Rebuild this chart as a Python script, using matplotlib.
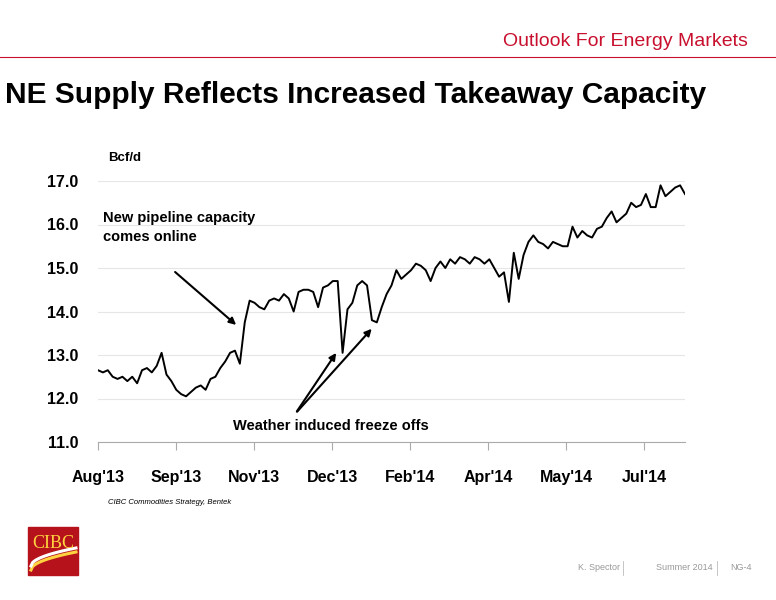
import matplotlib
matplotlib.use("Agg")
import matplotlib.pyplot as plt
import numpy as np
from matplotlib.patches import Rectangle

plt.rcParams['font.family'] = ['Liberation Sans', 'DejaVu Sans']

values = [12.65,12.6,12.65,12.5,12.45,12.5,12.4,12.5,12.35,12.65,12.7,12.6,12.75,13.05,12.55,12.4,12.2,12.1,12.05,12.15,
          12.25,12.3,12.2,12.45,12.5,12.7,12.85,13.05,13.1,12.8,13.75,14.25,14.2,14.1,14.05,14.25,14.3,14.25,14.4,14.3,
          14.0,14.45,14.5,14.5,14.45,14.1,14.55,14.6,14.7,14.7,13.05,14.05,14.2,14.6,14.7,14.6,13.8,13.75,14.1,14.4,
          14.6,14.95,14.75,14.85,14.95,15.1,15.05,14.95,14.7,15.0,15.15,15.0,15.2,15.1,15.25,15.2,15.1,15.25,15.2,15.1,
          15.2,15.0,14.8,14.9,14.22,15.35,14.75,15.3,15.6,15.75,15.6,15.55,15.45,15.6,15.55,15.5,15.5,15.95,15.7,15.85,
          15.75,15.7,15.9,15.95,16.15,16.3,16.05,16.15,16.25,16.5,16.4,16.45,16.7,16.4,16.4,16.9,16.65,16.75,16.85,16.9,16.7]
step_days = 3
days = np.arange(len(values)) * step_days
tick_labels = ["Aug'13", "Sep'13", "Nov'13", "Dec'13", "Feb'14", "Apr'14", "May'14", "Jul'14"]
tick_days = np.arange(len(tick_labels)) * 47.85
yticks = [11.0, 12.0, 13.0, 14.0, 15.0, 16.0, 17.0]

fig = plt.figure(figsize=(7.76, 6.0), dpi=100)
ax = fig.add_axes([98/776, 1-442/600, 587/776, 261/600])
ax.plot(days, values, color='black', lw=1.4)
ax.set_xlim(0, 360)
ax.set_ylim(11, 17)
ax.set_yticks(yticks)
ax.set_yticklabels([f"{v:.1f}" for v in yticks], fontsize=11.5, fontweight='bold')
ax.set_xticks(tick_days)
ax.set_xticklabels(tick_labels, fontsize=11.5, fontweight='bold')
ax.tick_params(axis='y', length=0, pad=14)
ax.tick_params(axis='x', length=6, direction='out', color='#aaaaaa', pad=14)
ax.grid(axis='y', color='#e6e6e6', lw=0.8)
for s in ['top', 'right', 'left']:
    ax.spines[s].set_visible(False)
ax.spines['bottom'].set_color('#aaaaaa')
ax.set_axisbelow(True)

ax.annotate('', xy=(86, 13.65), xytext=(46, 14.95),
            arrowprops=dict(arrowstyle='-|>', color='black', lw=1.5, mutation_scale=10))
ax.text(3, 15.55, 'New pipeline capacity\ncomes online', fontsize=10.5, fontweight='bold', va='bottom', linespacing=1.5)
ax.annotate('', xy=(147, 13.1), xytext=(121, 11.65),
            arrowprops=dict(arrowstyle='-|>', color='black', lw=1.5, mutation_scale=10))
ax.annotate('', xy=(169, 13.65), xytext=(121, 11.65),
            arrowprops=dict(arrowstyle='-|>', color='black', lw=1.5, mutation_scale=10))
ax.text(143, 11.2, 'Weather induced freeze offs', fontsize=10.5, fontweight='bold', ha='center', va='bottom')

fig.text(108/776, 1-158/600, 'Bcf/d', fontsize=9.5, fontweight='bold', va='center')
fig.text(748/776, 1-42/600, 'Outlook For Energy Markets', color='#c8102e', fontsize=14, ha='right', va='center')
fig.add_artist(plt.Line2D([0, 1], [1-57/600, 1-57/600], color='#c8102e', lw=0.8))
fig.text(5/776, 1-95/600, 'NE Supply Reflects Increased Takeaway Capacity', fontsize=21.5, fontweight='bold', va='center')
fig.text(108/776, 1-502/600, 'CIBC Commodities Strategy, Bentek', fontsize=5.5, style='italic', va='center')

fig.add_artist(Rectangle((28/776, 1-575/600), 50/776, 48/600, transform=fig.transFigure, color='#b5121b'))
fig.text(53/776, 1-543/600, 'CIBC', color='#ffd23f', fontsize=13, family='Liberation Serif', ha='center', va='center')
t = np.linspace(0, 1, 30)
for off, col in [(0, '#ffd23f'), (4, '#ffffff')]:
    xs = (31 + 45 * t) / 776
    ys = 1 - (570 - off - 18 * np.sqrt(t)) / 600
    fig.add_artist(plt.Line2D(xs, ys, color=col, lw=2.2))
fig.text(620/776, 1-568/600, 'K. Spector', color='#999999', fontsize=6.5, ha='right', va='center')
fig.text(713/776, 1-568/600, 'Summer 2014', color='#999999', fontsize=6.5, ha='right', va='center')
fig.text(730/776, 1-568/600, 'NG-4', color='#999999', fontsize=6.5, ha='left', va='center')
fig.add_artist(plt.Line2D([623/776, 623/776], [1-575/600, 1-561/600], color='#bbbbbb', lw=0.6))
fig.add_artist(plt.Line2D([717/776, 717/776], [1-575/600, 1-561/600], color='#bbbbbb', lw=0.6))

fig.savefig('out.png', dpi=100)
